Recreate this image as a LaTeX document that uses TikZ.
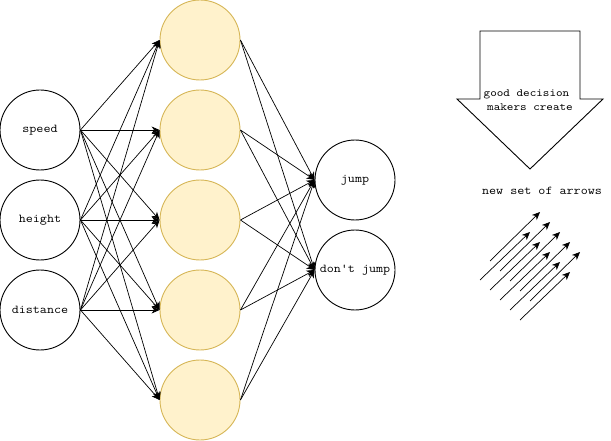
\documentclass[tikz,border=0pt]{standalone}
\usepackage{fontspec}
\setmonofont[FakeStretch=1.14]{Latin Modern Mono}
\usetikzlibrary{arrows.meta}
\definecolor{hidfill}{HTML}{FFF2CC}
\definecolor{hiddraw}{HTML}{D6B656}
\begin{document}
\begin{tikzpicture}[x=1pt,y=-1pt,
  every node/.style={font=\ttfamily\fontsize{12}{15}\selectfont},
  small/.style={font=\ttfamily\fontsize{11}{13}\selectfont},
  neuron/.style={circle,draw=black,line width=0.9pt,minimum size=80pt,inner sep=0pt},
  hidden/.style={neuron,draw=hiddraw,fill=hidfill},
  conn/.style={line width=0.7pt,-{Stealth[length=8pt,width=7pt,inset=2.5pt]}},
  bigarrow/.style={draw=black,line width=0.9pt,fill=white}]
\useasboundingbox (0,0) rectangle (611,441);
% input layer
\node[neuron] (i1) at (40,130) {speed};
\node[neuron] (i2) at (40,220) {height};
\node[neuron] (i3) at (40,310) {distance};
% hidden layer
\foreach \k/\y in {1/40,2/130,3/220,4/310,5/400}
  \node[hidden] (h\k) at (200,\y) {};
% output layer
\node[neuron] (o1) at (355,180) {jump};
\node[neuron] (o2) at (355,270) {don't jump};
% connections
\foreach \i in {1,2,3}
  \foreach \k in {1,...,5}
    \draw[conn] (i\i.east) -- (h\k.west);
\foreach \k in {1,...,5}
  \foreach \o in {1,2}
    \draw[conn] (h\k.east) -- (o\o.west);
% big arrow
\draw[bigarrow] (480,31) -- (580,31) -- (580,99) -- (603,99) -- (530,169) -- (457,99) -- (480,99) -- cycle;
\node[small,inner sep=0pt] (bt1) at (526.5,94.5) {good decision};
\node[small,inner sep=0pt] (bt2) at (530,107.5) {makers create};
\node[inner sep=0pt] (ns) at (542,190.5) {new set of arrows};
% small arrows
\foreach \k in {0,...,4} {
  \coordinate (a\k s) at (490+10*\k,261+10*\k);
  \coordinate (a\k e) at (540+10*\k,212+10*\k);
  \draw[conn] (a\k s) -- (a\k e);
  \coordinate (b\k s) at (480+10*\k,280+10*\k);
  \coordinate (b\k e) at (530+10*\k,232+10*\k);
  \draw[conn] (b\k s) -- (b\k e);
}
\end{tikzpicture}
\end{document}
